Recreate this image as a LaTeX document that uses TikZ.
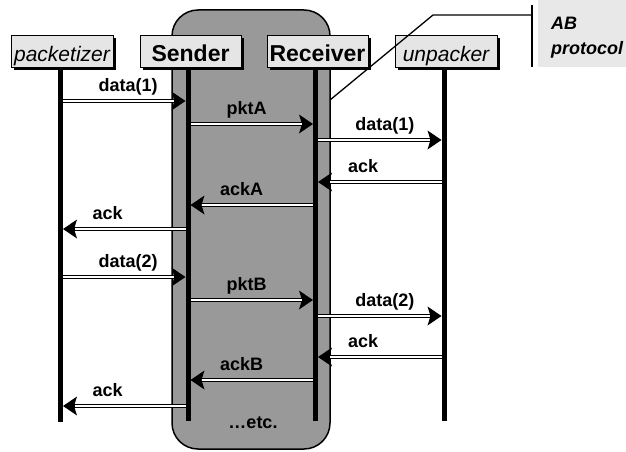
\documentclass[tikz,border=0pt]{standalone}
\usepackage{fontspec}
\setmainfont{Liberation Sans}
\usetikzlibrary{arrows.meta,shadows}

\definecolor{zone}{gray}{0.6}
\definecolor{boxfill}{gray}{0.9}
\definecolor{notefill}{gray}{0.91}

\begin{document}
\begin{tikzpicture}[x=1pt,y=-1pt,
  head/.style={draw=black, line width=0.8pt, fill=boxfill, minimum height=32pt,
    inner sep=0pt, text height=22pt, text depth=0pt,
    drop shadow={shadow xshift=3pt, shadow yshift=-3pt, fill=black, opacity=1}},
  headb/.style={head, font=\bfseries\fontsize{23}{26}\selectfont},
  headi/.style={head, font=\itshape\fontsize{21}{24}\selectfont},
  lifeline/.style={line width=5pt},
  % a message: black band with a white core, solid black tip
  msg/.style={line width=3.3pt,
    -{Stealth[length=14pt,width=19pt,inset=3pt,line width=0pt]},
    shorten >=2.5pt, shorten <=2.5pt,
    postaction={draw=white, line width=1.3pt, -, shorten >=14pt}},
  lbl/.style={font=\bfseries\fontsize{18}{20}\selectfont, anchor=base, yshift=9.5pt, inner sep=0pt},
  callout/.style={line width=1.3pt}
]
\useasboundingbox (0,0) rectangle (626,452);

% protocol zone behind Sender and Receiver
\draw[fill=zone, line width=1.5pt, rounded corners=26pt] (172,10) rectangle (330,449);

% lifeline end points
\coordinate (pkT) at (60.5,67);  \coordinate (pkB) at (60.5,422);
\coordinate (sdT) at (188,67);   \coordinate (sdB) at (188,421);
\coordinate (rcT) at (315.5,67); \coordinate (rcB) at (315.5,421);
\coordinate (upT) at (444,67);   \coordinate (upB) at (444,421);

\draw[lifeline] (pkT) -- (pkB);
\draw[lifeline] (sdT) -- (sdB);
\draw[lifeline] (rcT) -- (rcB);
\draw[lifeline] (upT) -- (upB);

% participants
\node[headi, minimum width=102pt] (pk) at (62,51) {packetizer};
\node[headb, minimum width=101pt] (sd) at (190.5,51) {Sender};
\node[headb, minimum width=101pt] (rc) at (317.5,51) {Receiver};
\node[headi, minimum width=102pt] (up) at (446,51) {unpacker};

% first exchange
\draw[msg] (pkT |- 0,101) -- (sdT |- 0,101) node[lbl, pos=0.53] {data(1)};
\draw[msg] (sdT |- 0,124) -- (rcT |- 0,124) node[lbl, pos=0.46] {pktA};
\draw[msg] (rcT |- 0,140) -- (upT |- 0,140) node[lbl, pos=0.54] {data(1)};
\draw[msg] (upT |- 0,182) -- (rcT |- 0,182) node[lbl, pos=0.63] {ack};
\draw[msg] (rcT |- 0,205) -- (sdT |- 0,205) node[lbl, pos=0.58] {ackA};
\draw[msg] (sdT |- 0,229) -- (pkT |- 0,229) node[lbl, pos=0.63] {ack};

% second exchange
\draw[msg] (pkT |- 0,277) -- (sdT |- 0,277) node[lbl, pos=0.53] {data(2)};
\draw[msg] (sdT |- 0,300) -- (rcT |- 0,300) node[lbl, pos=0.46] {pktB};
\draw[msg] (rcT |- 0,316) -- (upT |- 0,316) node[lbl, pos=0.54] {data(2)};
\draw[msg] (upT |- 0,357) -- (rcT |- 0,357) node[lbl, pos=0.63] {ack};
\draw[msg] (rcT |- 0,380) -- (sdT |- 0,380) node[lbl, pos=0.58] {ackB};
\draw[msg] (sdT |- 0,406) -- (pkT |- 0,406) node[lbl, pos=0.63] {ack};

\node[font=\bfseries\fontsize{18}{20}\selectfont, inner sep=0pt] (etc) at (253,423) {…etc.};

% callout naming the protocol zone
\fill[notefill] (538,0) rectangle (626,67);
\node[font=\bfseries\itshape\fontsize{18}{25}\selectfont, align=left, anchor=north west, inner sep=0pt]
  (ab) at (551,17) {AB\\protocol};
\coordinate (abTop) at (532,5);
\coordinate (abBot) at (532,67);
\coordinate (abJoin) at (532,15);
\coordinate (bend) at (433,15);
\coordinate (zoneEdge) at (330,100);
\draw[line width=1.5pt] (abTop) -- (abBot);
\draw[callout] (abJoin) -- (bend) -- (zoneEdge);
\end{tikzpicture}
\end{document}
